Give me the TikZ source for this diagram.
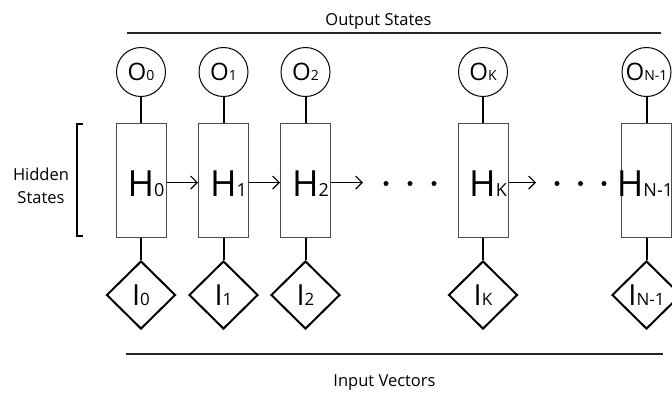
\documentclass[tikz,border=0pt]{standalone}
\usepackage{fontspec}
\setmainfont{Open Sans}
\usetikzlibrary{shapes.geometric,arrows.meta}
% small baseline-aligned index after a letter
\newcommand\idx[2]{{\fontsize{#1}{#1}\selectfont #2}}
\begin{document}
\begin{tikzpicture}[x=1pt,y=-1pt,
  outnode/.style={circle, draw, line width=1pt, minimum size=49pt, inner sep=0pt,
    font=\fontsize{24}{24}\selectfont},
  hidbox/.style={rectangle, draw=black!70, line width=1pt, minimum width=50pt,
    minimum height=114pt, inner sep=0pt},
  hlabel/.style={inner sep=0pt, font=\fontsize{36}{36}\selectfont},
  innode/.style={diamond, draw, line width=2pt, minimum width=69pt, minimum height=68pt,
    inner sep=0pt, font=\fontsize{29}{29}\selectfont},
  link/.style={line width=2pt},
  recur/.style={line width=1.2pt, -{Straight Barb[length=6.5pt,width=13pt]}},
  dotnode/.style={circle, fill, inner sep=0pt, minimum size=5pt},
  sidelabel/.style={inner sep=0pt, font=\fontsize{16.5}{23}\selectfont},
  rule/.style={line width=1.8pt, black!85}]
\useasboundingbox (0,0) rectangle (672,392);

% titles and rules
\node[sidelabel, anchor=base] (outtitle) at (378.5,25) {Output States};
\coordinate (ol) at (127,33); \coordinate (or) at (661,33);
\draw[rule] (ol) -- (or);
\node[sidelabel, anchor=base] (intitle) at (384.5,386.5) {Input Vectors};
\coordinate (il) at (126,354); \coordinate (ir) at (663,354);
\draw[rule] (il) -- (ir);

% hidden states bracket
\node[sidelabel, align=center] (hidtitle) at (41,185.5) {Hidden\\States};
\draw[link] (83,124) -- (76.5,124) -- (76.5,235.5) -- (83,235.5);

% output states
\node[outnode] (o0) at (141,72)   {O\idx{14}{0}};
\node[outnode] (o1) at (223.5,72) {O\idx{14}{1}};
\node[outnode] (o2) at (305.5,72) {O\idx{14}{2}};
\node[outnode] (ok) at (483,72)   {O\idx{14}{K}};
\node[outnode] (on) at (646.5,72) {O\idx{14}{N-1}};

% hidden state cells
\node[hidbox] (h0) at (141,180)   {};
\node[hidbox] (h1) at (223.5,180) {};
\node[hidbox] (h2) at (305.5,180) {};
\node[hidbox] (hk) at (483,180)   {};
\node[hidbox] (hn) at (646.5,180) {};
\node[hlabel] (t0) at ([xshift=5pt,yshift=-3.5pt]h0.center) {H\idx{18}{0}};
\node[hlabel] (t1) at ([xshift=5pt,yshift=-3.5pt]h1.center) {H\idx{18}{1}};
\node[hlabel] (t2) at ([xshift=5pt,yshift=-3.5pt]h2.center) {H\idx{18}{2}};
\node[hlabel] (tk) at ([xshift=5pt,yshift=-3.5pt]hk.center) {H\idx{18}{K}};
\node[hlabel] (tn) at ([xshift=-1.5pt,yshift=-3.5pt]hn.center) {H\idx{18}{N-1}};

% input vectors
\node[innode] (i0) at (141,295)   {I\idx{17}{0}};
\node[innode] (i1) at (223.5,295) {I\idx{17}{1}};
\node[innode] (i2) at (305.5,295) {I\idx{17}{2}};
\node[innode] (ik) at (483,295)   {I\idx{17}{K}};
\node[innode] (in) at (646.5,295) {I\idx{17}{N-1}};

% vertical links
\foreach \c in {0,1,2,k,n} {
  \draw[link] (o\c) -- (h\c);
  \draw[link] (h\c) -- (i\c);
}

% recurrent connections
\draw[recur] ([yshift=-2.5pt]h0.east) -- ([yshift=-2.5pt]h1.west);
\draw[recur] ([yshift=-2.5pt]h1.east) -- ([yshift=-2.5pt]h2.west);
\coordinate (a2) at (363,182.5);
\coordinate (ak) at (536,182.5);
\draw[recur] ([yshift=-2.5pt]h2.east) -- (a2);
\draw[recur] ([yshift=-2.5pt]hk.east) -- (ak);

% ellipsis dots
\node[dotnode] (d1) at (386,183.5) {};
\node[dotnode] (d2) at (410,183.5) {};
\node[dotnode] (d3) at (434,183.5) {};
\node[dotnode] (d4) at (557,183.5) {};
\node[dotnode] (d5) at (580.5,183.5) {};
\node[dotnode] (d6) at (604,183.5) {};
\end{tikzpicture}
\end{document}
